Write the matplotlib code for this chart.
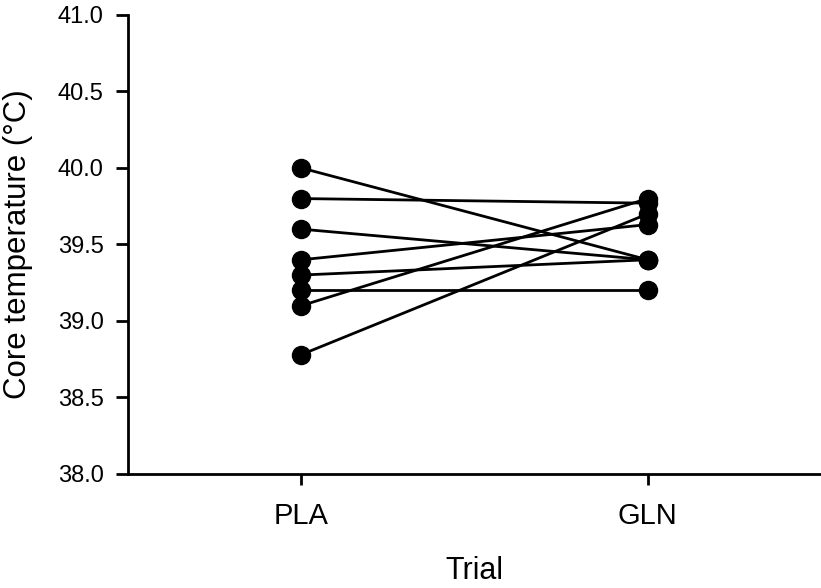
import matplotlib
matplotlib.use("Agg")
import matplotlib.pyplot as plt

plt.rcParams['font.family'] = ['Liberation Sans', 'DejaVu Sans']

# core temperature per participant, placebo vs glutamine
trials = ["PLA", "GLN"]
pla = [40.0, 39.8, 39.6, 39.4, 39.3, 39.2, 39.1, 38.78]
gln = [39.4, 39.77, 39.4, 39.63, 39.4, 39.2, 39.8, 39.7]

fig = plt.figure(figsize=(8.21, 5.88), dpi=100)
ax = fig.add_axes([0.156, 0.194, 0.844, 0.7805])

for a, b in zip(pla, gln):
    ax.plot([0, 1], [a, b], color="black", lw=2.0, marker="o", ms=13,
            markerfacecolor="black", markeredgecolor="black", clip_on=False)

ax.set_xlim(-0.5, 1.5)
ax.set_ylim(38.0, 41.0)
ax.set_yticks([38.0, 38.5, 39.0, 39.5, 40.0, 40.5, 41.0])
ax.set_yticklabels(["%.1f" % v for v in ax.get_yticks()])
ax.set_xticks([0, 1])
ax.set_xticklabels(trials)

for s in ["top", "right"]:
    ax.spines[s].set_visible(False)
for s in ["left", "bottom"]:
    ax.spines[s].set_linewidth(2.0)

ax.tick_params(axis="y", labelsize=17, length=8.5, width=2.0, pad=9)
ax.tick_params(axis="x", labelsize=21, length=8, width=2.0, pad=12)

ax.set_ylabel("Core temperature (°C)", fontsize=22.5, labelpad=18)
ax.set_xlabel("Trial", fontsize=22, labelpad=19)

fig.savefig("out.png", dpi=100)
